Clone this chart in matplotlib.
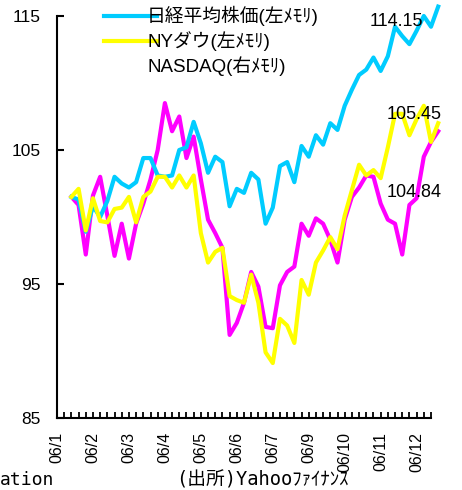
import numpy as np
import matplotlib.pyplot as plt
from matplotlib.lines import Line2D

# --- data (weekly) ---
month_labels = ['06/1', '06/2', '06/3', '06/4', '06/5', '06/6',
                '06/7', '06/9', '06/10', '06/11', '06/12']

nikkei = [101.5, 101.3, 98.9, 100.8, 100.0, 101.2, 103.0, 102.5, 102.2, 102.6,
          104.4, 104.4, 103.1, 103.0, 103.1, 105.0, 105.2, 107.1, 105.5, 103.3,
          104.5, 104.1, 100.8, 102.1, 101.8, 103.3, 102.8, 99.5, 100.7, 103.8,
          104.1, 102.6, 105.3, 104.5, 106.1, 105.4, 107.0, 106.5, 108.3, 109.5,
          110.6, 111.0, 111.9, 110.9, 112.0, 114.2, 113.5, 112.9, 113.9, 115.0,
          114.2, 115.7]

nydow = [101.5, 102.1, 99.0, 101.4, 99.7, 99.6, 100.6, 100.7, 101.5, 99.6,
         101.5, 101.9, 103.0, 103.0, 102.2, 103.1, 102.2, 103.1, 98.8, 96.6,
         97.4, 97.7, 94.1, 93.8, 93.6, 95.7, 93.6, 89.9, 89.1, 92.4,
         91.9, 90.6, 95.3, 94.2, 96.6, 97.5, 98.5, 97.6, 100.1, 102.0,
         103.9, 103.1, 103.5, 102.9, 105.2, 107.7, 107.7, 106.1, 107.3, 108.3,
         105.6, 107.0]

nasdaq = [101.5, 100.9, 97.2, 101.6, 103.0, 100.1, 97.1, 99.5, 96.9, 99.5,
          101.0, 102.8, 105.0, 108.5, 106.4, 107.5, 104.4, 106.0, 102.8, 99.8,
          98.8, 97.7, 91.2, 92.1, 93.6, 95.9, 94.8, 91.8, 91.7, 94.9,
          95.9, 96.3, 99.5, 98.6, 99.9, 99.5, 98.3, 96.6, 99.8, 101.5,
          102.2, 103.1, 103.0, 101.0, 99.8, 99.5, 97.2, 100.9, 101.4, 104.5,
          105.6, 106.4]

series_names = ['日経平均株価(左ﾒﾓﾘ)', 'NYダウ(左ﾒﾓﾘ)', 'NASDAQ(右ﾒﾓﾘ)']
end_labels = ['114.15', '105.45', '104.84']

latin_cjk = ['Liberation Sans', 'Noto Sans CJK JP']
mono_cjk = ['DejaVu Sans Mono', 'Noto Sans CJK JP']
plt.rcParams['font.family'] = latin_cjk

n_weeks = 52          # tick marks on the category axis
first_week = 2        # data begins at the third week slot

fig = plt.figure(figsize=(4.62, 4.9), dpi=100)
ax = fig.add_axes([57 / 462, 72 / 490, 374 / 462, 402 / 490])

weeks = np.arange(len(nikkei)) + first_week
ax.plot(weeks, nasdaq, color='#ff00ff', lw=3, zorder=2, clip_on=False)
ax.plot(weeks, nikkei, color='#00ccff', lw=3, zorder=3, clip_on=False)
ax.plot(weeks, nydow, color='#ffff00', lw=3, zorder=4, clip_on=False)

# --- axes ---
ax.set_xlim(0, n_weeks)
ax.set_ylim(85, 115)
ax.set_yticks([85, 95, 105, 115])
ax.set_xticks(range(0, 5 * len(month_labels), 5))
ax.set_xticklabels(month_labels, rotation=90)
ax.set_xticks(range(0, n_weeks + 1), minor=True)

ax.spines['top'].set_visible(False)
ax.spines['right'].set_visible(False)
ax.spines['left'].set_linewidth(1.5)
ax.spines['bottom'].set_linewidth(1.5)
ax.tick_params(axis='y', direction='in', length=5, width=1.5, pad=12, labelsize=12.5)
ax.tick_params(axis='x', which='both', direction='in', length=4, width=1.3,
               pad=10, labelsize=11.5)

# --- end-of-line value labels ---
series_ends = [nikkei[-1], nydow[-1], nasdaq[-1]]
offsets = [(-30, -11), (-17, 6), (-17, -44)]
for lab, yv, off in zip(end_labels, series_ends, offsets):
    ax.annotate(lab, xy=(weeks[-1], yv), xytext=off, textcoords='offset points',
                ha='center', va='center', fontsize=13, zorder=5,
                annotation_clip=False)

# --- legend ---
handles = [Line2D([], [], color='#00ccff', lw=3),
           Line2D([], [], color='#ffff00', lw=3),
           Line2D([], [], color='none', lw=3)]
ax.legend(handles, series_names, loc='upper left',
          bbox_to_anchor=(104 / 462, 1 - 6 / 490), bbox_transform=fig.transFigure,
          frameon=False, borderpad=0, borderaxespad=0, handlelength=2.8,
          handletextpad=-0.5, labelspacing=0.28, prop={'family': latin_cjk, 'size': 13.5})

# --- footer ---
fig.text(0, 10 / 490, 'ation', fontsize=13, family=mono_cjk, ha='left', va='center')
fig.text(176 / 462, 10 / 490, '(出所)Yahooﾌｧｲﾅﾝｽ', fontsize=13.5, family=mono_cjk,
         ha='left', va='center')

fig.savefig('out.png', dpi=100)
